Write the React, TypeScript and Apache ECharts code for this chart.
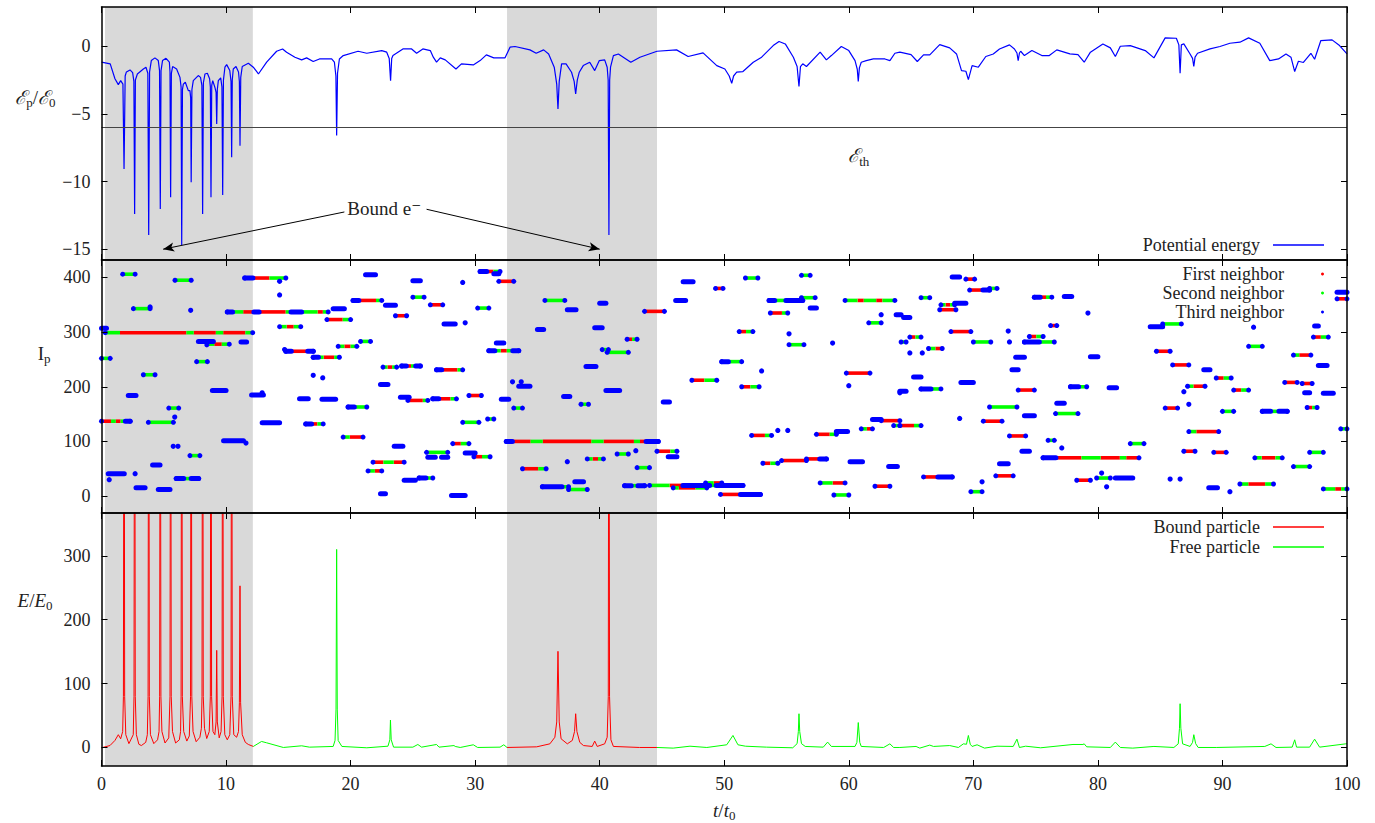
import React, { useEffect, useRef } from "react";
import * as echarts from "echarts";

const SERIF = '"Liberation Serif", "Times New Roman", "DejaVu Serif", serif';
const INK = "#222222";
const BLUE = "#0000ff";
const RED = "#ff0000";
const GREEN = "#00ff00";
const SHADE = "#d9d9d9";

// ---------------- data ----------------
const shadedSpans: [number, number][] = [
  [0.28, 12.15],
  [32.56, 44.6],
];
const thresholdEnergy = -6;
const xRange = [0, 100];
const potentialRange = [-15.8, 2.9];
const ipRange = [-31, 432];
const energyRange = [-29, 367];
const potentialTicks = [-15, -10, -5, 0];
const ipTicks = [0, 100, 200, 300, 400];
const energyTicks = [0, 100, 200, 300];

// [t, Ep/E0]
const potentialEnergy: [number, number][] = [
  [0, -1.18], [0.7, -1.3], [1.08, -2.4], [1.35, -2.84], [1.54, -2.54], [1.72, -2.8], [1.81, -9.07], [1.9, -2.2],
  [2.0, -1.9], [2.29, -1.75], [2.5, -1.95], [2.6, -2.6], [2.66, -12.4], [2.72, -2.5], [2.88, -2.05], [3.36, -1.68],
  [3.57, -1.55], [3.72, -2.0], [3.79, -13.95], [3.86, -1.9], [4.0, -1.06], [4.29, -0.86], [4.56, -1.06], [4.66, -1.8],
  [4.72, -12.03], [4.78, -1.8], [4.9, -1.06], [5.18, -0.89], [5.45, -1.18], [5.5, -1.9], [5.55, -11.17], [5.61, -2.0],
  [5.71, -1.5], [6.03, -1.68], [6.3, -2.3], [6.39, -3.0], [6.44, -14.7], [6.5, -3.2], [6.57, -2.8], [6.73, -2.66],
  [6.97, -3.28], [7.1, -3.28], [7.16, -3.8], [7.2, -10.06], [7.26, -3.2], [7.37, -2.54], [7.77, -2.17], [7.95, -2.3],
  [8.06, -2.9], [8.12, -12.4], [8.18, -2.7], [8.31, -2.05], [8.5, -2.0], [8.68, -2.4], [8.74, -3.0], [8.79, -11.17],
  [8.85, -2.9], [8.93, -2.54], [9.1, -3.03], [9.2, -3.4], [9.25, -5.74], [9.3, -3.2], [9.38, -2.54], [9.57, -2.34],
  [9.67, -3.0], [9.73, -11.0], [9.79, -2.5], [9.91, -1.55], [10.05, -1.36], [10.3, -1.8], [10.4, -2.6], [10.45, -8.2],
  [10.5, -2.5], [10.58, -1.68], [10.8, -1.5], [11.0, -1.9], [11.07, -2.6], [11.12, -7.35], [11.18, -2.3], [11.3, -1.5],
  [11.79, -1.26], [12.19, -1.55], [12.6, -2.05], [13.26, -1.18], [14.06, -0.37], [14.54, -0.2], [14.86, -0.44],
  [15.53, -0.81], [16.07, -1.01], [16.47, -0.86], [17.0, -1.13], [17.5, -0.94], [18.48, -0.94], [18.7, -1.18],
  [18.82, -2.2], [18.88, -6.6], [18.95, -2.0], [19.1, -0.94], [19.41, -0.69], [20.6, -0.37], [21.3, -0.52],
  [22.5, -0.32], [22.9, -0.44], [23.1, -0.9], [23.21, -2.54], [23.3, -0.9], [23.4, -0.69], [24.2, -0.2], [24.9, -0.2],
  [25.3, -0.52], [25.8, -0.2], [26.4, -0.32], [26.64, -0.81], [26.9, -1.18], [27.2, -0.86], [27.6, -1.01],
  [28.46, -1.68], [28.9, -1.3], [29.85, -1.38], [30.4, -1.06], [30.9, -0.64], [31.5, -0.86], [32.4, -0.86],
  [32.8, -0.07], [33.2, -0.02], [34.4, -0.27], [34.9, -0.52], [35.5, -0.27], [35.9, -0.57], [36.35, -1.55],
  [36.55, -2.8], [36.65, -4.63], [36.75, -2.6], [36.94, -1.3], [37.3, -1.3], [37.74, -1.92], [37.95, -2.6],
  [38.07, -3.53], [38.2, -2.5], [38.36, -1.92], [38.68, -1.43], [39.2, -1.18], [39.6, -1.8], [39.97, -1.06],
  [40.4, -1.01], [40.6, -1.55], [40.68, -2.5], [40.74, -13.95], [40.8, -2.5], [40.87, -1.55], [41.1, -0.69],
  [41.5, -0.57], [42.5, -1.18], [43.23, -0.81], [44.6, -0.37], [46.17, -0.27], [47.1, -0.76], [48.3, -0.49],
  [49.4, -1.43], [50.05, -1.68], [50.4, -2.2], [50.6, -2.74], [50.75, -2.2], [51.0, -1.92], [51.5, -1.87],
  [52.33, -1.18], [53.0, -0.81], [53.93, 0.05], [54.4, 0.35], [54.9, 0.17], [55.55, -0.81], [55.85, -1.5],
  [56.0, -2.98], [56.12, -1.5], [56.3, -1.3], [56.6, -1.5], [57.7, -0.44], [58.2, -1.01], [58.6, -0.69],
  [59.4, -0.02], [60.0, -0.32], [60.5, -1.06], [60.68, -1.7], [60.76, -2.61], [60.85, -1.6], [61.0, -1.18],
  [61.4, -1.06], [61.97, -0.94], [62.9, -0.94], [63.3, -1.06], [63.7, -0.52], [64.1, -0.44], [65.0, -0.62],
  [65.5, -1.13], [66.0, -0.64], [66.5, -0.64], [67.3, 0.12], [68.1, -0.12], [68.65, -0.57], [69.05, -1.8],
  [69.4, -1.85], [69.6, -2.47], [69.9, -1.43], [70.4, -1.55], [71.0, -0.76], [71.6, -0.57], [72.1, -0.2],
  [72.9, 0.1], [73.3, -0.2], [73.5, -0.5], [73.6, -1.06], [73.7, -0.5], [73.8, -0.37], [74.1, -0.69], [74.7, -0.32],
  [75.5, -0.69], [76.1, -0.69], [76.7, -0.27], [77.75, -0.57], [78.4, -0.62], [78.9, -1.18], [79.4, -0.44],
  [80.4, 0.17], [81.0, -0.12], [81.4, -0.76], [81.8, 0], [82.6, 0.05], [83.8, -0.32], [84.5, -0.86], [85.4, 0.62],
  [86.3, 0.59], [86.5, 0.1], [86.6, -2.0], [86.7, 0.1], [86.9, 0.17], [87.4, -0.57], [87.6, -0.9], [87.7, -1.5],
  [87.8, -0.8], [88.0, -0.52], [89.0, -0.2], [89.8, -0.02], [90.6, 0.22], [91.4, 0.3], [92.1, 0.62], [93.0, 0.22],
  [93.8, -1.06], [94.5, -0.94], [95.1, -0.57], [95.5, -0.81], [95.8, -1.87], [96.1, -1.11], [96.5, -1.2],
  [97.1, -0.52], [97.4, -0.96], [97.9, 0.42], [98.8, 0.47], [99.4, 0.05], [100, -0.57],
];

// [t, E/E0] bound particle (null = gap)
const boundParticle: ([number, number] | null)[] = [
  [0, -0.5], [0.68, 3], [1.08, 11], [1.35, 20], [1.54, 13.6], [1.7, 25], [1.76, 80], [1.81, 900], [1.86, 80],
  [1.95, 20], [2.2, 6], [2.55, 20], [2.61, 80], [2.66, 900], [2.71, 80], [2.8, 20], [3.0, 5], [3.2, 3], [3.55, 8],
  [3.68, 20], [3.74, 80], [3.79, 900], [3.84, 80], [3.93, 20], [4.2, 6], [4.5, 12], [4.62, 25], [4.67, 80],
  [4.72, 900], [4.77, 80], [4.85, 25], [5.1, 7], [5.4, 15], [5.5, 80], [5.55, 900], [5.6, 80], [5.7, 25], [5.95, 7],
  [6.25, 12], [6.35, 25], [6.39, 80], [6.44, 900], [6.49, 80], [6.6, 25], [6.85, 10], [7.05, 18], [7.15, 80],
  [7.2, 900], [7.25, 80], [7.35, 25], [7.6, 9], [7.9, 16], [8.02, 30], [8.07, 80], [8.12, 900], [8.17, 80],
  [8.27, 30], [8.45, 14], [8.65, 25], [8.74, 80], [8.79, 900], [8.84, 80], [8.95, 25], [9.1, 20], [9.2, 40],
  [9.25, 152], [9.3, 40], [9.45, 15], [9.6, 25], [9.68, 80], [9.73, 900], [9.78, 80], [9.9, 20], [10.1, 12],
  [10.3, 20], [10.4, 80], [10.45, 900], [10.5, 80], [10.62, 20], [10.85, 16], [11.0, 25], [11.07, 70], [11.12, 253],
  [11.17, 70], [11.3, 20], [11.55, 8], [11.79, 4.7], [12.19, 1.6],
  null,
  [32.56, 0], [34.94, 1], [36.0, 5.7], [36.4, 16], [36.55, 40], [36.65, 150.5], [36.75, 40], [36.9, 13.6],
  [37.4, 5.7], [37.8, 11], [37.98, 25], [38.07, 52.8], [38.17, 25], [38.4, 8], [38.7, 3], [39.4, 1.6], [39.6, 10],
  [39.8, 1.6], [40.4, 5.7], [40.6, 16], [40.69, 80], [40.74, 900], [40.79, 80], [40.9, 12], [41.1, 1.6], [43.2, 0],
  [44.6, 0],
];

// [t, E/E0] free particle (null = gap)
const freeParticle: ([number, number] | null)[] = [
  [12.19, 1.6], [12.85, 9.4], [13.26, 7.3], [14.6, 0], [16.07, 2.6], [16.7, 0.5], [18.6, 1.6], [18.75, 11],
  [18.83, 60], [18.88, 310], [18.93, 60], [19.0, 11], [19.3, 1.6], [21.3, -0.5], [23.0, 2], [23.15, 12], [23.2, 43],
  [23.26, 12], [23.45, 0.5], [25.0, 0.5], [25.4, 4.7], [25.7, 0.5], [26.9, 4.7], [27.1, 0.5], [28.3, 3], [28.4, 1.6],
  [28.8, 0], [29.85, 4.2], [30.2, 0], [32.0, 0.5], [32.3, 4.2], [32.56, 0],
  null,
  [44.6, 0], [45.9, -1], [47.25, 2], [48.6, 0], [50.2, 4.2], [50.7, 18.8], [51.1, 4.2], [51.7, 2], [53.4, 0.5],
  [55.5, -0.5], [55.85, 6], [55.95, 25], [56.0, 52.8], [56.06, 25], [56.2, 6], [56.5, 1.6], [57.95, 0.5], [58.3, 8.4],
  [58.6, 1.6], [60.5, 1.6], [60.65, 8], [60.76, 39], [60.88, 8], [61.0, 1.6], [62.8, 0], [63.3, 5.7], [63.6, 0],
  [64.1, 0], [65.4, 1.6], [65.7, -1], [66.5, 3.7], [66.8, 1.6], [68.1, 3], [68.8, 0], [69.2, 5.7], [69.45, 5],
  [69.6, 18.8], [69.75, 5], [69.9, 1.6], [70.3, 4.2], [70.9, -1], [71.9, 2], [73.2, 1.6], [73.5, 13], [73.7, 0],
  [74.2, 2], [75.4, -0.5], [78.0, 4.7], [78.8, 4.7], [78.9, 5.7], [79.1, 1], [81.0, 0], [81.4, 8.4], [81.8, 0],
  [82.8, -1], [84.5, 1.6], [86.1, 0], [86.45, 5.7], [86.55, 30], [86.6, 68.5], [86.66, 30], [86.8, 5.7], [87.4, 1.6],
  [87.6, 8], [87.7, 20], [87.85, 6], [88.05, 0], [89.5, 0], [93.4, 1.6], [93.9, 5.7], [94.3, 0], [95.6, 0.5],
  [95.8, 12], [95.95, 0.5], [97.0, 0.5], [97.4, 13], [97.8, 0.5], [99.9, 5.7], [100, 6],
];

// [Ip, tStart, tEnd, colours along the run]  b = third (blue), g = second (green), r = first (red)
const neighborSegments: [number, number, number, string][] = [
  [307, 0, 0.4, "b"], [299, 0.3, 12.14, "ggrrrrrrrrrgrrrgrrrg"], [406, 1.7, 2.7, "g"], [395, 5.9, 7.2, "g"],
  [343, 2.56, 3.9, "g"], [346, 3.9, 3.9, "b"], [340, 7.16, 7.16, "b"], [252, 0, 0.7, "g"], [222, 3.36, 4.3, "g"],
  [184, 2.15, 2.77, "b"], [137, 0, 2.3, "rrgrgb"], [135, 3.76, 5.77, "g"], [161, 5.4, 6.2, "g"], [146, 5.87, 5.87, "b"],
  [246, 7.64, 8.5, "g"], [283, 7.78, 8.98, "b"], [278, 8.45, 10.26, "grg"], [282, 11.2, 11.65, "b"],
  [193, 8.9, 10, "b"], [101, 9.8, 11.4, "b"], [97, 11.6, 11.6, "b"], [41, 0.54, 1.83, "b"], [30, 0.62, 0.62, "b"],
  [41, 2.7, 2.7, "b"], [15, 2.77, 3.5, "b"], [12, 4.56, 5.5, "b"], [57, 4.1, 4.7, "b"], [91, 5.76, 5.76, "b"],
  [91, 6.14, 6.14, "b"], [74, 7.1, 7.9, "g"], [32, 6.0, 7.8, "bgb"], [399, 11.5, 14.8, "brrgg"],
  [393, 14.3, 14.3, "b"], [368, 14.3, 14.3, "b"], [337, 10.1, 18.2, "bggrrbrrrrrgbbgggrg"], [343, 18.6, 19.5, "b"],
  [323, 18.1, 20, "rrg"], [310, 14.3, 16, "grg"], [268, 14.7, 14.7, "b"], [265, 14.8, 17, "brrrb"],
  [254, 17, 19.1, "bgrrg"], [221, 17, 17, "b"], [218, 17.75, 17.75, "b"], [185, 12.05, 13, "b"],
  [189, 12.9, 12.9, "b"], [178, 15.9, 16.6, "b"], [177, 17.7, 18.8, "b"], [134, 12.9, 14.3, "b"],
  [132, 16.4, 17.8, "brg"], [274, 19, 20.5, "grg"], [283, 20.8, 21.6, "g"], [405, 21.2, 22, "b"],
  [358, 20.2, 22.5, "brrrg"], [349, 22.8, 23.6, "b"], [330, 23.6, 24.5, "rr"], [394, 25, 25.6, "b"],
  [364, 25, 25.9, "g"], [350, 26.4, 27.4, "rr"], [315, 27.5, 28.4, "b"], [236, 22.6, 23.7, "grg"],
  [238, 24.1, 25.6, "brgb"], [231, 26.9, 29, "brrrg"], [204, 22.4, 23, "b"], [181, 24, 24.7, "b"],
  [175, 24.6, 26.2, "rrrg"], [178, 26.6, 28.5, "brrg"], [163, 19.8, 21.3, "bgg"], [108, 19.4, 21, "grr"],
  [91, 23.5, 24.2, "b"], [80, 26.1, 27.8, "ggg"], [71, 26.2, 26.8, "b"], [71, 27.3, 27.8, "b"],
  [62, 21.8, 24.3, "rgr"], [46, 21.4, 22.5, "gr"], [33, 25.5, 26.6, "bg"], [29, 24.3, 25.2, "b"],
  [4, 22.4, 22.8, "b"], [1, 28.1, 29.2, "b"], [96, 28.2, 29.5, "rg"],
  [411, 30.4, 32, "brg"], [407, 31.5, 31.9, "b"], [391, 29, 29, "b"], [393, 31.9, 33.1, "rr"], [344, 30.2, 31.1, "g"],
  [317, 29.2, 29.2, "b"], [280, 31.7, 32.3, "b"], [266, 31.1, 33.5, "bgrgb"], [184, 29.5, 30.5, "r"],
  [177, 32.1, 32.7, "b"], [161, 33.1, 33.8, "g"], [141, 31, 31.5, "g"], [135, 29, 30.3, "gg"], [79, 29.2, 30, "b"],
  [72, 29.9, 31.2, "rg"], [50, 33.8, 35.7, "rrg"], [100, 32.5, 44.7, "brrrggrrrrrrrrggrrrrrgrbb"],
  [358, 35.6, 37.2, "gg"], [341, 37.4, 38.1, "b"], [353, 40, 40.5, "b"], [338, 43.6, 45.2, "rrr"],
  [305, 35, 35.5, "b"], [308, 39.6, 40.2, "b"], [287, 42.2, 43, "rg"], [268, 40.2, 40.7, "g"], [263, 40.6, 42.3, "gg"],
  [237, 38.9, 39.7, "b"], [209, 33, 33, "b"], [209, 33.7, 33.7, "b"], [201, 33.5, 34.4, "b"], [193, 40.5, 41.6, "b"],
  [182, 37.1, 37.6, "b"], [168, 38.5, 39.1, "g"], [172, 45.1, 45.6, "b"], [82, 44.6, 46.2, "rrg"], [72, 45.5, 46.2, "b"],
  [77, 41.4, 42.3, "g"], [83, 42.9, 42.9, "b"], [68, 39, 40.3, "grg"], [63, 37.4, 37.4, "b"], [52, 43, 44, "g"],
  [26, 38, 38.7, "b"], [12, 37.5, 39, "gg"], [17, 35.4, 37.5, "bbbg"], [19, 42, 43.6, "bgb"],
  [19.5, 44, 51.5, "gggrrbbbbgbbbb"], [15, 45.9, 48.6, "grrrgg"], [24, 48.5, 49.8, "gr"], [3, 49.7, 52.9, "rrrbbb"],
  [392, 46.7, 47.5, "b"], [380, 49.3, 49.9, "r"], [358, 46.1, 46.9, "b"], [399, 51.7, 52.7, "g"], [404, 56.2, 56.9, "g"],
  [358, 53.6, 56.3, "bggbbb"], [363, 56.2, 57.3, "g"], [344, 56.9, 57.4, "b"], [335, 53.7, 55.1, "rrg"],
  [358, 59.7, 63.7, "ggrggrgg"], [332, 62.6, 62.6, "b"], [332, 63.8, 64.2, "b"], [301, 51.2, 52.3, "rg"],
  [297, 55.2, 55.2, "b"], [277, 55.2, 56.4, "ggg"], [280, 58.7, 58.7, "b"], [317, 61.6, 62.6, "g"],
  [246, 49.8, 51.4, "bgg"], [229, 53, 53, "b"], [225, 59.8, 61.7, "rrr"], [212, 47.4, 49.4, "rrgg"],
  [200, 51.4, 52.8, "rg"], [202, 60, 60, "b"], [189, 64.1, 64.1, "b"], [140, 61.9, 62.6, "b"], [138, 62.6, 64.1, "rrr"],
  [129, 63.6, 64.1, "g"], [123, 61, 61.9, "gr"], [120, 54.3, 54.3, "b"], [120, 55.1, 55.1, "b"], [118, 59, 59.9, "b"],
  [113, 57.4, 59, "rrg"], [111, 52.2, 53.8, "rrg"], [65, 54.6, 56.6, "rrr"], [68, 56.6, 58.2, "rrb"],
  [60, 53.1, 54.3, "rg"], [63, 60.1, 61.1, "b"], [54, 63.2, 63.9, "b"], [24, 57.7, 59.7, "ggrr"], [18, 62.1, 63.3, "r"],
  [2, 58.8, 60, "g"],
  [401, 68.3, 68.9, "b"], [397, 69.4, 70.1, "r"], [380, 71.3, 71.9, "g"], [377, 69.7, 71.3, "rrb"], [363, 65.8, 66.5, "g"],
  [364, 74.9, 76.3, "brg"], [365, 77.3, 77.9, "b"], [350, 67.4, 68.5, "grg"], [341, 67.3, 68.6, "rrr"],
  [353, 68.5, 69.4, "b"], [327, 64.4, 64.9, "b"], [335, 79.2, 79.2, "b"], [312, 76.2, 76.7, "r"], [310, 84.2, 85.2, "b"],
  [315, 85.2, 86.7, "g"], [311, 97.4, 97.7, "b"], [309, 92.5, 92.5, "b"], [373, 99.2, 100, "b"], [361, 99.2, 100, "r"],
  [301, 68.2, 69.8, "rrr"], [302, 72.8, 72.8, "b"], [291, 64.9, 65.8, "rg"], [292, 74.5, 75.6, "rg"],
  [282, 64.2, 64.6, "g"], [282, 72.9, 72.9, "b"], [282, 70, 71.4, "gg"], [282, 74.1, 76.5, "bbgg"],
  [270, 66.4, 67.5, "gr"], [291, 97.3, 98.5, "rg"], [274, 92.1, 93.2, "gg"], [262, 64.9, 64.9, "b"],
  [262, 65.9, 65.9, "b"], [265, 84.7, 85.8, "rr"], [258, 95.7, 97.1, "grr"], [254, 73.4, 74.1, "b"],
  [255, 79.4, 80, "b"], [240, 86, 87.3, "rr"], [239, 97.7, 98.4, "b"], [231, 73.1, 73.6, "b"], [231, 88.5, 89, "b"],
  [218, 65.2, 65.8, "b"], [216, 89.5, 90.7, "rg"], [208, 69, 70, "b"], [208, 95, 96, "r"], [206, 96.4, 97.2, "r"],
  [201, 87.2, 88.6, "grr"], [200, 77.8, 79.1, "bg"], [198, 80.9, 81.5, "b"], [196, 65.8, 67.4, "bg"],
  [192, 64.1, 64.6, "b"], [194, 73.6, 74.9, "rr"], [194, 90.9, 92.1, "rg"], [191, 86.9, 86.9, "b"],
  [189, 96.6, 97, "b"], [188, 98.1, 98.9, "b"], [170, 76.7, 77.3, "b"], [168, 87.3, 87.3, "b"],
  [163, 71.3, 73.5, "gggg"], [161, 85.4, 86.4, "r"], [162, 96.8, 97.6, "rg"], [155, 90, 90.9, "g"],
  [155, 93.2, 95.2, "bgb"], [151, 76.6, 78.4, "ggg"], [147, 74.1, 74.9, "b"], [142, 68.9, 68.9, "b"],
  [137, 70.8, 72.3, "rrr"], [129, 64.1, 65.8, "rrg"], [118, 87.3, 89.7, "grrr"], [123, 99.5, 100, "g"],
  [110, 72.9, 74.2, "rr"], [102, 76, 76.5, "g"], [96, 82.6, 83.7, "g"], [88, 77.1, 77.1, "b"], [82, 73.9, 74.5, "b"],
  [82, 86.9, 87.8, "r"], [80, 89.3, 90.3, "r"], [80, 97, 98.1, "g"], [70, 75.6, 83.3, "bbrrrrgggrrrgrr"],
  [70, 92.6, 94.8, "grrg"], [59, 72.1, 72.8, "b"], [54, 95.7, 97, "gg"], [37, 71.8, 73.2, "rr"], [35, 66, 68.3, "rrbb"],
  [29, 78.3, 79.4, "r"], [33, 79.9, 81, "g"], [33, 81.4, 82.8, "b"], [31, 85.8, 85.8, "b"], [31, 86.6, 86.6, "b"],
  [26, 70.7, 70.7, "b"], [22, 91.4, 94.1, "grrg"], [17, 80.7, 80.7, "b"], [42, 80.3, 80.3, "b"], [15, 88.9, 89.6, "b"],
  [13, 98.1, 100, "ggrg"], [8, 69.8, 70.7, "g"], [8, 90.6, 90.6, "b"],
];

// annotation anchors (data coordinates of the top panel)
const thLabelAt: [number, number] = [60.8, -8.1];
const boundLabelAt: [number, number] = [22.7, -12.0];
const arrowTails: [number, number][] = [[19.5, -12.25], [26.1, -12.05]];
const arrowHeads: [number, number][] = [[4.95, -15.0], [40.0, -15.0]];

// ---------------- option ----------------
const GRID_TOPS = [7, 260, 513];
const GRID_H = 253;
const LINE_ICON = "path://M0,0H51V1.3H0Z";

const nameRich = {
  it: { fontFamily: SERIF, fontStyle: "italic", fontSize: 19, color: INK, lineHeight: 24 },
  n: { fontFamily: SERIF, fontSize: 19, color: INK, lineHeight: 24 },
  sc: { fontFamily: SERIF, fontStyle: "italic", fontSize: 19, color: INK, lineHeight: 24 },
  sub: { fontFamily: SERIF, fontSize: 13, color: INK, lineHeight: 13, verticalAlign: "bottom" },
};

const minusLabel = (v: number) => String(v).replace("-", "\u2212");

// split a pixel run [a,b] into runs of the same colour letter
function colourRuns(pattern: string, kind: string, a: number, b: number): [number, number][] {
  const n = pattern.length;
  const step = (b - a) / n;
  const runs: [number, number][] = [];
  let i = 0;
  while (i < n) {
    if (pattern[i] !== kind) {
      i++;
      continue;
    }
    let j = i;
    while (j < n && pattern[j] === kind) j++;
    runs.push([a + i * step, a + j * step]);
    i = j;
  }
  return runs;
}

function buildOption() {
  const grid = GRID_TOPS.map((top) => ({
    left: 101.5,
    right: 28,
    top,
    height: GRID_H,
    containLabel: false,
    outerBoundsMode: "none",
    show: false,
  }));

  const frameLine = { show: true, onZero: false, lineStyle: { color: "#000", width: 1.5 } };
  const tick = { show: true, inside: true, length: 6, lineStyle: { color: "#000", width: 1 } };
  const labelStyle = { fontFamily: SERIF, fontSize: 18, color: INK };

  const xAxis: any[] = [];
  for (let g = 0; g < 3; g++) {
    for (const pos of ["bottom", "top"]) {
      const main = g === 2 && pos === "bottom";
      xAxis.push({
        type: "value",
        gridIndex: g,
        position: pos,
        min: xRange[0],
        max: xRange[1],
        interval: 10,
        z: 10,
        axisLine: frameLine,
        axisTick: tick,
        splitLine: { show: false },
        axisLabel: { show: main, margin: 9, ...labelStyle },
        name: main ? "{it|t}{n|/}{it|t}{sub|0}" : "",
        nameLocation: "middle",
        nameGap: 32,
        nameTextStyle: { rich: nameRich },
      });
    }
  }

  const yDefs = [
    { range: potentialRange, ticks: potentialTicks, name: "{sc|ℰ}{sub|p}{n|/}{sc|ℰ}{sub|0}", gap: 46, pad: 73 },
    { range: ipRange, ticks: ipTicks, name: "{n|I}{sub|p}", gap: 51, pad: 67 },
    { range: energyRange, ticks: energyTicks, name: "{it|E}{n|/}{it|E}{sub|0}", gap: 49, pad: 79 },
  ];
  const yAxis: any[] = [];
  yDefs.forEach((d, g) => {
    for (const pos of ["left", "right"]) {
      const main = pos === "left";
      yAxis.push({
        type: "value",
        gridIndex: g,
        position: pos,
        min: d.range[0],
        max: d.range[1],
        z: 10,
        axisLine: frameLine,
        axisTick: { ...tick, customValues: d.ticks },
        splitLine: { show: false },
        axisLabel: { show: main, customValues: d.ticks, margin: 11, formatter: minusLabel, ...labelStyle },
        name: main ? d.name : "",
        nameLocation: "middle",
        nameRotate: 0,
        nameGap: d.gap,
        nameTextStyle: { rich: nameRich, padding: [0, 0, d.pad, 0] },
      });
    }
  });

  const shadeSeries = [0, 1, 2].map((g) => ({
    type: "custom",
    name: "shade" + g,
    xAxisIndex: 2 * g,
    yAxisIndex: 2 * g,
    z: 1,
    silent: true,
    data: shadedSpans,
    encode: { x: [0, 1] },
    renderItem: (params: any, api: any) => {
      const cs = params.coordSys;
      const a = api.coord([api.value(0), 0])[0];
      const b = api.coord([api.value(1), 0])[0];
      return {
        type: "rect",
        shape: { x: a, y: cs.y, width: b - a, height: cs.height },
        style: { fill: SHADE },
      };
    },
  }));

  const neighborData = neighborSegments.map((s) => [s[1], s[0], s[2]]);
  const neighborSeries = (name: string, kind: string, color: string) => ({
    type: "custom",
    name,
    xAxisIndex: 2,
    yAxisIndex: 2,
    z: kind === "b" ? 5 : 4,
    silent: true,
    itemStyle: { color },
    data: neighborData,
    encode: { x: [0, 2], y: 1 },
    renderItem: (params: any, api: any) => {
      const seg = neighborSegments[params.dataIndex];
      const [y, x0, x1, pattern] = seg;
      const p0 = api.coord([x0, y]);
      const p1 = api.coord([x1, y]);
      const cy = p0[1];
      const len = p1[0] - p0[0];
      if (kind === "b") {
        if (len < 1) {
          return { type: "circle", shape: { cx: p0[0], cy, r: 2.6 }, style: { fill: color } };
        }
        if (pattern === "b") {
          return {
            type: "line",
            shape: { x1: p0[0], y1: cy, x2: p1[0], y2: cy },
            style: { stroke: color, lineWidth: 5, lineCap: "round" },
          };
        }
        const children: any[] = [
          { type: "circle", shape: { cx: p0[0], cy, r: 2.5 }, style: { fill: color } },
          { type: "circle", shape: { cx: p1[0], cy, r: 2.5 }, style: { fill: color } },
        ];
        colourRuns(pattern, "b", p0[0], p1[0]).forEach(([a, b]) =>
          children.push({
            type: "line",
            shape: { x1: a, y1: cy, x2: b, y2: cy },
            style: { stroke: color, lineWidth: 5, lineCap: "round" },
          })
        );
        return { type: "group", children };
      }
      if (pattern.indexOf(kind) < 0 || len < 1) return null;
      return {
        type: "group",
        children: colourRuns(pattern, kind, p0[0], p1[0]).map(([a, b]) => ({
          type: "line",
          shape: { x1: a, y1: cy, x2: b, y2: cy },
          style: { stroke: color, lineWidth: 3.6, lineCap: "butt" },
        })),
      };
    },
  });

  const potentialSeries = {
    type: "line",
    name: "Potential energy",
    xAxisIndex: 0,
    yAxisIndex: 0,
    z: 3,
    data: potentialEnergy,
    showSymbol: false,
    symbol: "none",
    silent: true,
    lineStyle: { color: BLUE, width: 1.2 },
    itemStyle: { color: BLUE },
    markLine: {
      silent: true,
      symbol: ["none", "none"],
      label: { show: false },
      emphasis: { disabled: true },
      lineStyle: { color: "#000", width: 1, type: "solid" },
      data: [
        { yAxis: thresholdEnergy, lineStyle: { color: "#444", width: 1.2, type: "solid" } },
        ...arrowTails.map((t, i) => [
          { coord: t, symbol: "none" },
          { coord: arrowHeads[i], symbol: "arrow", symbolSize: [7, 11] },
        ]),
      ],
    },
    markPoint: {
      silent: true,
      symbol: "circle",
      symbolSize: 1,
      itemStyle: { color: "rgba(0,0,0,0)" },
      data: [
        {
          coord: thLabelAt,
          label: { show: true, position: "inside", formatter: "{sc|ℰ}{sub|th}", rich: nameRich },
        },
        {
          coord: boundLabelAt,
          label: { show: true, position: "inside", formatter: "{n|Bound e⁻}", rich: nameRich },
        },
      ],
    },
  };

  const boundSeries = {
    type: "line",
    name: "Bound particle",
    xAxisIndex: 4,
    yAxisIndex: 4,
    z: 3,
    data: boundParticle.map((p) => (p ? p : [null, null])),
    connectNulls: false,
    showSymbol: false,
    symbol: "none",
    silent: true,
    clip: true,
    lineStyle: { color: RED, width: 1 },
    itemStyle: { color: RED },
  };
  const freeSeries = {
    type: "line",
    name: "Free particle",
    xAxisIndex: 4,
    yAxisIndex: 4,
    z: 3,
    data: freeParticle.map((p) => (p ? p : [null, null])),
    connectNulls: false,
    showSymbol: false,
    symbol: "none",
    silent: true,
    clip: true,
    lineStyle: { color: GREEN, width: 1 },
    itemStyle: { color: GREEN },
  };

  const legendText = { fontFamily: SERIF, fontSize: 18, color: INK, padding: [0, 8, 0, 0] };

  return {
    animation: false,
    backgroundColor: "#ffffff",
    textStyle: { fontFamily: SERIF },
    grid,
    xAxis,
    yAxis,
    legend: [
      {
        data: [{ name: "Potential energy", icon: LINE_ICON }],
        right: 51,
        top: 235,
        align: "right",
        orient: "vertical",
        padding: 0,
        itemWidth: 51,
        itemHeight: 2,
        selectedMode: false,
        textStyle: { ...legendText, lineHeight: 20 },
      },
      {
        data: [
          { name: "First neighbor", icon: "circle" },
          { name: "Second neighbor", icon: "circle" },
          { name: "Third neighbor", icon: "circle" },
        ],
        right: 43,
        top: 261.5,
        align: "right",
        orient: "vertical",
        padding: [3, 8, 2, 7],
        backgroundColor: "#ffffff",
        itemGap: 0,
        itemWidth: 51,
        itemHeight: 3,
        selectedMode: false,
        textStyle: { ...legendText, lineHeight: 19 },
      },
      {
        data: [
          { name: "Bound particle", icon: LINE_ICON },
          { name: "Free particle", icon: LINE_ICON },
        ],
        right: 51,
        top: 517,
        align: "right",
        orient: "vertical",
        padding: 0,
        itemGap: 0,
        itemWidth: 51,
        itemHeight: 2,
        selectedMode: false,
        textStyle: { ...legendText, lineHeight: 20 },
      },
    ],
    series: [
      ...shadeSeries,
      potentialSeries,
      neighborSeries("Third neighbor", "b", BLUE),
      neighborSeries("First neighbor", "r", RED),
      neighborSeries("Second neighbor", "g", GREEN),
      boundSeries,
      freeSeries,
    ],
  };
}

export default function App() {
  const ref = useRef<HTMLDivElement>(null);
  useEffect(() => {
    if (!ref.current) return;
    const chart = echarts.init(ref.current, null, { renderer: "svg" });
    chart.setOption(buildOption() as any);
    return () => chart.dispose();
  }, []);
  return (
    <div
      ref={ref}
      style={{ position: "absolute", left: 0, top: 0, width: 1375, height: 823, background: "#fff" }}
    />
  );
}
